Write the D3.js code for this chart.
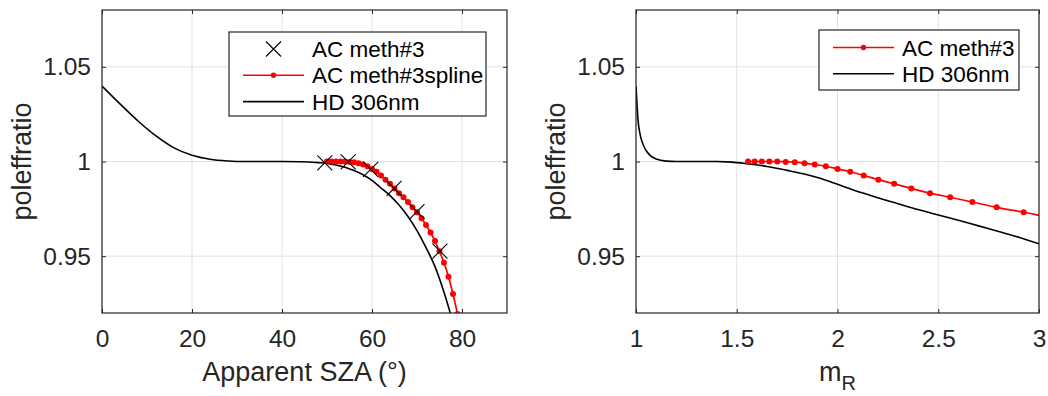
<!DOCTYPE html>
<html>
<head>
<meta charset="utf-8">
<script src="https://cdn.jsdelivr.net/npm/d3@7"></script>
<style>
  body { margin: 0; background: #fff; }
  svg { display: block; font-family: "Liberation Sans", Arial, sans-serif; }
  .grid line { stroke: #e2e2e2; stroke-width: 1; }
  .axis line { stroke: #262626; }
  .axis text { fill: #262626; font-size: 24.5px; font-family: "Liberation Sans", Arial, sans-serif; }
  .box { fill: none; stroke: #262626; stroke-width: 1.2; }
  .label { fill: #262626; font-size: 27px; }
  .legend rect { fill: #fff; stroke: #262626; stroke-width: 1.2; }
  .legend text { fill: #000; font-size: 22.5px; }
</style>
</head>
<body>
<script>
// tick labels
var szaTicks = [0, 20, 40, 60, 80];
var mrTicks = [1, 1.5, 2, 2.5, 3];
var ratioTicks = [0.95, 1, 1.05];

// AC meth#3 single points (crosses, left panel)
var acSza = [49.5, 54.7, 59.7, 64.9, 70.0, 75.1];
var acRatio = [0.9993, 0.9998, 0.9958, 0.9858, 0.9735, 0.9527];

// AC meth#3 spline, one dot per degree of SZA
var splineSza = [50, 51, 52, 53, 54, 55, 56, 57, 58, 59, 60, 61, 62, 63, 64,
                 65, 66, 67, 68, 69, 70, 71, 72, 73, 74, 75, 76, 77, 78, 79];
var splineRatio = [1.0000, 1.0000, 1.0000, 1.0000, 1.0000, 0.9998, 0.99965, 0.9991, 0.9984, 0.9975,
                   0.9961, 0.9946, 0.9926, 0.9904, 0.9882, 0.9858, 0.9833, 0.9811, 0.9786, 0.9758,
                   0.9732, 0.9700, 0.9665, 0.9625, 0.9580, 0.9526, 0.9465, 0.9392, 0.9300, 0.9195];
// the same spline dots against m_R (right panel)
var splineMr = [1.556, 1.589, 1.624, 1.662, 1.701, 1.743, 1.788, 1.836, 1.887, 1.942, 2.000,
                2.063, 2.130, 2.203, 2.281, 2.366, 2.459, 2.559, 2.669, 2.790, 2.924, 3.072];
var splineRatioMr = [1.0000, 1.0000, 1.0000, 1.0000, 1.0000, 0.9998, 0.99965, 0.9991, 0.9984, 0.9975, 0.9961,
                     0.9946, 0.9926, 0.9904, 0.9882, 0.9858, 0.9833, 0.9811, 0.9786, 0.9758, 0.9732, 0.9700];

// HD 306nm against SZA (left panel)
var hdSza = [0, 4, 8, 12, 16, 20, 24, 28, 32, 36, 40, 44, 48, 50, 52, 54,
             56, 58, 60, 62, 64, 66, 68, 70, 72, 74, 76, 78];
var hdRatio = [1.0398, 1.0304, 1.0214, 1.0135, 1.0072, 1.0033, 1.0012, 1.0003, 1.0000, 1.0000,
               1.0000, 0.9999, 0.9994, 0.9990, 0.9982, 0.9970, 0.9952, 0.9930, 0.9900, 0.9860,
               0.9820, 0.9770, 0.9710, 0.9635, 0.9545, 0.9445, 0.9310, 0.9150];

// HD 306nm against m_R (right panel)
var hdMr = [1.000, 1.003, 1.010, 1.020, 1.030, 1.050, 1.070, 1.100, 1.150, 1.200, 1.300,
            1.400, 1.450, 1.500, 1.550, 1.650, 1.750, 1.850, 1.900, 2.000, 2.100, 2.130,
            2.200, 2.300, 2.400, 2.500, 2.600, 2.700, 2.800, 2.900, 3.000];
var hdRatioMr = [1.0398, 1.0340, 1.0220, 1.0145, 1.0105, 1.0058, 1.0032, 1.0013, 1.0002, 1.0000, 1.0000,
                 1.0000, 0.9998, 0.9994, 0.9988, 0.9974, 0.9953, 0.9930, 0.9916, 0.9880, 0.9842, 0.9832,
                 0.9808, 0.9777, 0.9746, 0.9718, 0.9690, 0.9660, 0.9630, 0.9600, 0.9565];

var width = 1048,
    height = 396;

var svg = d3.select("body")
    .append("svg")
    .attr("width", width)
    .attr("height", height);

function zip(xs, ys) {
    return xs.map(function(d, i) { return [d, ys[i]]; });
}

function drawPanel(p) {
    var x = d3.scaleLinear().domain(p.xDomain).range([p.left, p.right]);
    var y = d3.scaleLinear().domain([0.92, 1.08]).range([p.bottom, p.top]);

    var g = svg.append("g");

    // grid
    var grid = g.append("g").attr("class", "grid");
    grid.selectAll(".gx").data(p.xTicks).enter().append("line")
        .attr("x1", x).attr("x2", x)
        .attr("y1", p.top).attr("y2", p.bottom);
    grid.selectAll(".gy").data(ratioTicks).enter().append("line")
        .attr("y1", y).attr("y2", y)
        .attr("x1", p.left).attr("x2", p.right);

    // clip the curves to the axes box
    g.append("clipPath").attr("id", p.id + "-clip")
        .append("rect")
        .attr("x", p.left).attr("y", p.top)
        .attr("width", p.right - p.left).attr("height", p.bottom - p.top);

    var plot = g.append("g").attr("clip-path", "url(#" + p.id + "-clip)");
    var line = d3.line()
        .x(function(d) { return x(d[0]); })
        .y(function(d) { return y(d[1]); })
        .curve(d3.curveMonotoneX);

    // HD 306nm
    plot.append("path")
        .datum(zip(p.hdX, p.hdY))
        .attr("fill", "none")
        .attr("stroke", "#000")
        .attr("stroke-width", 1.6)
        .attr("d", line);

    // spline line and dots
    var spline = zip(p.splineX, p.splineY);
    plot.append("path")
        .datum(spline)
        .attr("fill", "none")
        .attr("stroke", "#ff0000")
        .attr("stroke-width", 1.7)
        .attr("d", line);
    plot.selectAll(".dot").data(spline).enter().append("circle")
        .attr("cx", function(d) { return x(d[0]); })
        .attr("cy", function(d) { return y(d[1]); })
        .attr("r", 3)
        .attr("fill", "#ff0000");

    // crosses
    if (p.crossX) {
        var s = 7.5;
        plot.selectAll(".cross").data(zip(p.crossX, p.crossY)).enter().append("path")
            .attr("d", function(d) {
                var cx = x(d[0]), cy = y(d[1]);
                return "M" + (cx - s) + "," + (cy - s) + "L" + (cx + s) + "," + (cy + s) +
                       "M" + (cx - s) + "," + (cy + s) + "L" + (cx + s) + "," + (cy - s);
            })
            .attr("stroke", "#000")
            .attr("stroke-width", 1.1)
            .attr("fill", "none");
    }

    // axes, ticks pointing inward like matlab
    var fmt = d3.format("~g");
    var ax = g.append("g").attr("class", "axis").attr("transform", "translate(0," + p.bottom + ")")
        .call(d3.axisBottom(x).tickValues(p.xTicks).tickFormat(fmt).tickSize(-4).tickPadding(17));
    ax.select(".domain").remove();

    var ay = g.append("g").attr("class", "axis").attr("transform", "translate(" + p.left + ",0)")
        .call(d3.axisLeft(y).tickValues(ratioTicks).tickFormat(fmt).tickSize(-4).tickPadding(11));
    ay.select(".domain").remove();

    var at = g.append("g").attr("class", "axis").attr("transform", "translate(0," + p.top + ")")
        .call(d3.axisTop(x).tickValues(p.xTicks).tickFormat("").tickSize(-4));
    at.select(".domain").remove();

    var ar = g.append("g").attr("class", "axis").attr("transform", "translate(" + p.right + ",0)")
        .call(d3.axisRight(y).tickValues(ratioTicks).tickFormat("").tickSize(-4));
    ar.select(".domain").remove();

    g.selectAll(".axis").attr("font-size", null).attr("font-family", null);

    g.append("rect").attr("class", "box")
        .attr("x", p.left).attr("y", p.top)
        .attr("width", p.right - p.left).attr("height", p.bottom - p.top);

    // axis labels
    g.append("text").attr("class", "label")
        .attr("transform", "translate(" + p.yLabelX + "," + ((p.top + p.bottom) / 2) + ") rotate(-90)")
        .attr("text-anchor", "middle")
        .text("poleffratio");

    var xl = g.append("text").attr("class", "label")
        .attr("x", (p.left + p.right) / 2)
        .attr("y", 381)
        .attr("text-anchor", "middle");
    if (p.xLabelSub) {
        xl.append("tspan").text(p.xLabel);
        xl.append("tspan").attr("dy", 9).attr("font-size", "20px").text(p.xLabelSub);
    } else {
        xl.text(p.xLabel);
    }

    // legend
    var lg = g.append("g").attr("class", "legend");
    lg.append("rect")
        .attr("x", p.legend.x).attr("y", p.legend.y)
        .attr("width", p.legend.w).attr("height", p.legend.h);
    var rows = lg.selectAll(".row").data(p.legend.items).enter().append("g")
        .attr("transform", function(d, i) {
            return "translate(" + p.legend.x + "," + (p.legend.y + p.legend.first + i * 26.3) + ")";
        });
    rows.append("text")
        .attr("x", 83)
        .attr("y", 8)
        .text(function(d) { return d.label; });
    rows.each(function(d) {
        var r = d3.select(this);
        if (d.type === "cross") {
            r.append("path")
                .attr("d", "M37,-7.5L52,7.5M37,7.5L52,-7.5")
                .attr("stroke", "#000").attr("stroke-width", 1.1);
        } else {
            r.append("line")
                .attr("x1", 14).attr("x2", 75).attr("y1", 0).attr("y2", 0)
                .attr("stroke", d.type === "spline" ? "#ff0000" : "#000")
                .attr("stroke-width", 1.6);
            if (d.type === "spline") {
                r.append("circle").attr("cx", 44.5).attr("cy", 0).attr("r", 2.7).attr("fill", "#ff0000");
            }
        }
    });
}

drawPanel({
    id: "left",
    left: 102, right: 507, top: 10, bottom: 313,
    xDomain: [0, 90], xTicks: szaTicks,
    hdX: hdSza, hdY: hdRatio,
    splineX: splineSza, splineY: splineRatio,
    crossX: acSza, crossY: acRatio,
    yLabelX: 31,
    xLabel: "Apparent SZA (\u00b0)",
    legend: {
        x: 229, y: 32, w: 257, h: 84, first: 17,
        items: [
            { label: "AC meth#3", type: "cross" },
            { label: "AC meth#3spline", type: "spline" },
            { label: "HD 306nm", type: "line" }
        ]
    }
});

drawPanel({
    id: "right",
    left: 636, right: 1039, top: 10, bottom: 313,
    xDomain: [1, 3], xTicks: mrTicks,
    hdX: hdMr, hdY: hdRatioMr,
    splineX: splineMr, splineY: splineRatioMr,
    yLabelX: 565,
    xLabel: "m", xLabelSub: "R",
    legend: {
        x: 819, y: 30, w: 200, h: 60, first: 17.5,
        items: [
            { label: "AC meth#3", type: "spline" },
            { label: "HD 306nm", type: "line" }
        ]
    }
});
</script>
</body>
</html>
